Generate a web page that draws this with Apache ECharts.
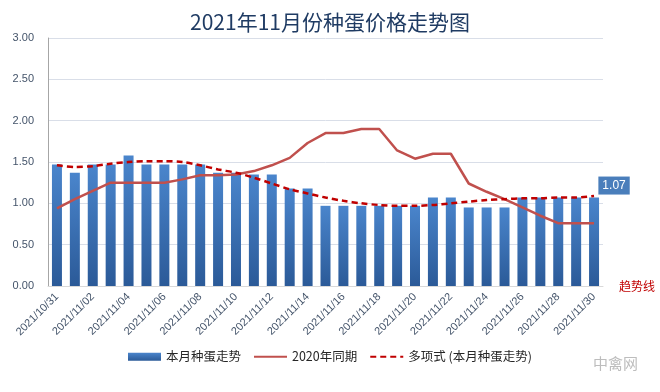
<!DOCTYPE html>
<html><head><meta charset="utf-8">
<script src="https://cdn.jsdelivr.net/npm/echarts@6/dist/echarts.min.js"></script>
<style>html,body{margin:0;padding:0;background:#fff}#c{width:660px;height:392px}</style>
</head><body><div id="c"></div>
<script>
const categories = ['2021/10/31','2021/11/01','2021/11/02','2021/11/03','2021/11/04','2021/11/05','2021/11/06','2021/11/07','2021/11/08','2021/11/09','2021/11/10','2021/11/11','2021/11/12','2021/11/13','2021/11/14','2021/11/15','2021/11/16','2021/11/17','2021/11/18','2021/11/19','2021/11/20','2021/11/21','2021/11/22','2021/11/23','2021/11/24','2021/11/25','2021/11/26','2021/11/27','2021/11/28','2021/11/29','2021/11/30'];
const thisMonth = [1.47,1.37,1.47,1.47,1.58,1.47,1.47,1.47,1.47,1.37,1.37,1.35,1.35,1.18,1.18,0.97,0.97,0.97,0.97,0.97,0.97,1.07,1.07,0.95,0.95,0.95,1.07,1.07,1.07,1.07,1.07];
const lastYear = [0.94,1.05,1.15,1.25,1.25,1.25,1.25,1.29,1.34,1.34,1.35,1.39,1.46,1.55,1.73,1.85,1.85,1.90,1.90,1.64,1.54,1.60,1.60,1.24,1.14,1.05,0.95,0.85,0.76,0.76,0.76];
const trend = [1.46,1.44,1.45,1.48,1.50,1.51,1.51,1.50,1.46,1.41,1.37,1.31,1.24,1.17,1.12,1.07,1.03,1.00,0.98,0.97,0.97,0.98,1.00,1.02,1.04,1.05,1.06,1.06,1.07,1.07,1.09];
const yTicks = {min:0, max:3, interval:0.5};
const names = ['本月种蛋走势','2020年同期','多项式 (本月种蛋走势)'];

const chart = echarts.init(document.getElementById('c'));
const barData = thisMonth.map((v,i)=> i===thisMonth.length-1 ? {value:v,label:{show:true,position:'top',offset:[20,2],formatter:'{c}',color:'#fff',backgroundColor:'#4A7EBB',padding:[3,4,3,4],fontSize:12,fontFamily:'Liberation Sans'}} : v);
chart.setOption({
  animation:false,
  title:{text:'2021年11月份种蛋价格走势图',left:'center',top:7,textStyle:{fontFamily:'Noto Sans CJK SC',fontSize:21,fontWeight:'normal',color:'#1F3B63'}},
  grid:{left:48,right:57,top:38,bottom:106},
  legend:{bottom:24,left:'center',itemWidth:33,itemHeight:8,itemGap:12,textStyle:{fontFamily:'Noto Sans CJK SC',fontSize:12.5,color:'#262626'},
    data:[{name:names[0],icon:'rect'},{name:names[1],itemStyle:{opacity:0}},{name:names[2],itemStyle:{opacity:0}}]},
  xAxis:{type:'category',data:categories,boundaryGap:true,
    axisLine:{lineStyle:{color:'#D9D9D9'}},axisTick:{show:false},
    axisLabel:{interval:1,rotate:45,fontSize:11,color:'#44546A',fontFamily:'Liberation Sans',margin:9}},
  yAxis:{type:'value',min:yTicks.min,max:yTicks.max,interval:yTicks.interval,
    axisLine:{show:true,lineStyle:{color:'#A6A6A6'}},axisTick:{show:false},
    axisLabel:{formatter:v=>v.toFixed(2),fontSize:11,color:'#44546A',fontFamily:'Liberation Sans',margin:14},
    splitLine:{lineStyle:{color:'#D9DEE8'}}},
  series:[
    {name:names[0],type:'bar',data:barData,barWidth:10,
     itemStyle:{color:new echarts.graphic.LinearGradient(0,0,0,1,[{offset:0,color:'#4A85CC'},{offset:1,color:'#2B5A98'}])}},
    {name:names[1],type:'line',data:lastYear,symbol:'none',lineStyle:{color:'#C0504D',width:2.5},itemStyle:{color:'#C0504D'}},
    {name:names[2],type:'line',data:trend,symbol:'none',smooth:0.3,lineStyle:{color:'#C00000',width:2.5,type:[6,4]},itemStyle:{color:'#C00000'}}
  ],
  graphic:[
    {type:'text',left:619,top:280,style:{text:'趋势线',fill:'#C00000',font:'12px "Noto Sans CJK SC"'}},
    {type:'text',left:593,top:356,style:{text:'中禽网',fill:'#BDBDBD',font:'15px "Noto Sans CJK SC"'}}
  ]
});
</script></body></html>
